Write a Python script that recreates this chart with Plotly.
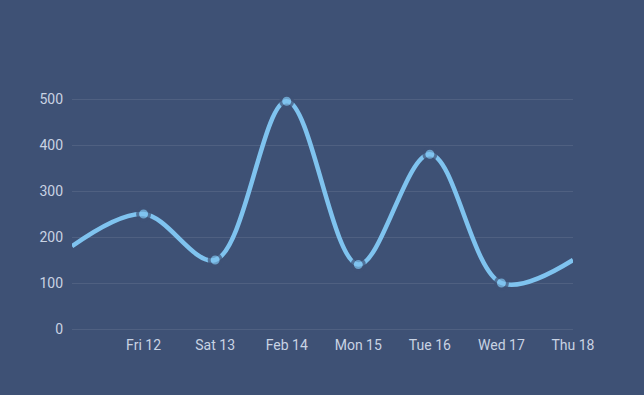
import plotly.graph_objects as go

x_pos = [0, 1, 2, 3, 4, 5, 6, 7]
values = [180, 250, 150, 495, 140, 380, 100, 150]
tick_labels = ["Fri 12", "Sat 13", "Feb 14", "Mon 15", "Tue 16", "Wed 17", "Thu 18"]
tick_pos = [1, 2, 3, 4, 5, 6, 7]
marker_sizes = [0, 12, 12, 12, 12, 12, 12, 0]

BG = "#3e5175"
LINE = "#7fc3ef"
TXT = "#c9d3e3"

fig = go.Figure()
fig.add_trace(go.Scatter(
    x=x_pos, y=values, mode="lines+markers",
    line=dict(color=LINE, width=4.5, shape="spline", smoothing=1),
    marker=dict(size=marker_sizes, color=LINE, line=dict(color=BG, width=3)),
    hoverinfo="skip", showlegend=False,
))
fig.update_layout(
    width=644, height=395,
    paper_bgcolor=BG, plot_bgcolor=BG,
    margin=dict(l=72, r=71, t=76, b=66),
    font=dict(family="Roboto", size=14, color=TXT),
    xaxis=dict(range=[0, 7], tickvals=tick_pos, ticktext=tick_labels,
               showgrid=False, zeroline=False, showline=False, ticks="",
               ticklabelstandoff=6,
               tickfont=dict(size=14, color=TXT)),
    yaxis=dict(range=[0, 550], tickvals=[0, 100, 200, 300, 400, 500],
               showgrid=True, gridcolor="rgba(255,255,255,0.09)", gridwidth=1,
               zeroline=True, zerolinecolor="rgba(255,255,255,0.09)", zerolinewidth=1,
               showline=False, ticks="", ticklabelstandoff=8,
               tickfont=dict(size=14, color=TXT)),
)
fig.write_html("out.html", config={"displayModeBar": False},
               post_script="document.body.style.margin='0';document.body.style.background='" + BG + "';")
